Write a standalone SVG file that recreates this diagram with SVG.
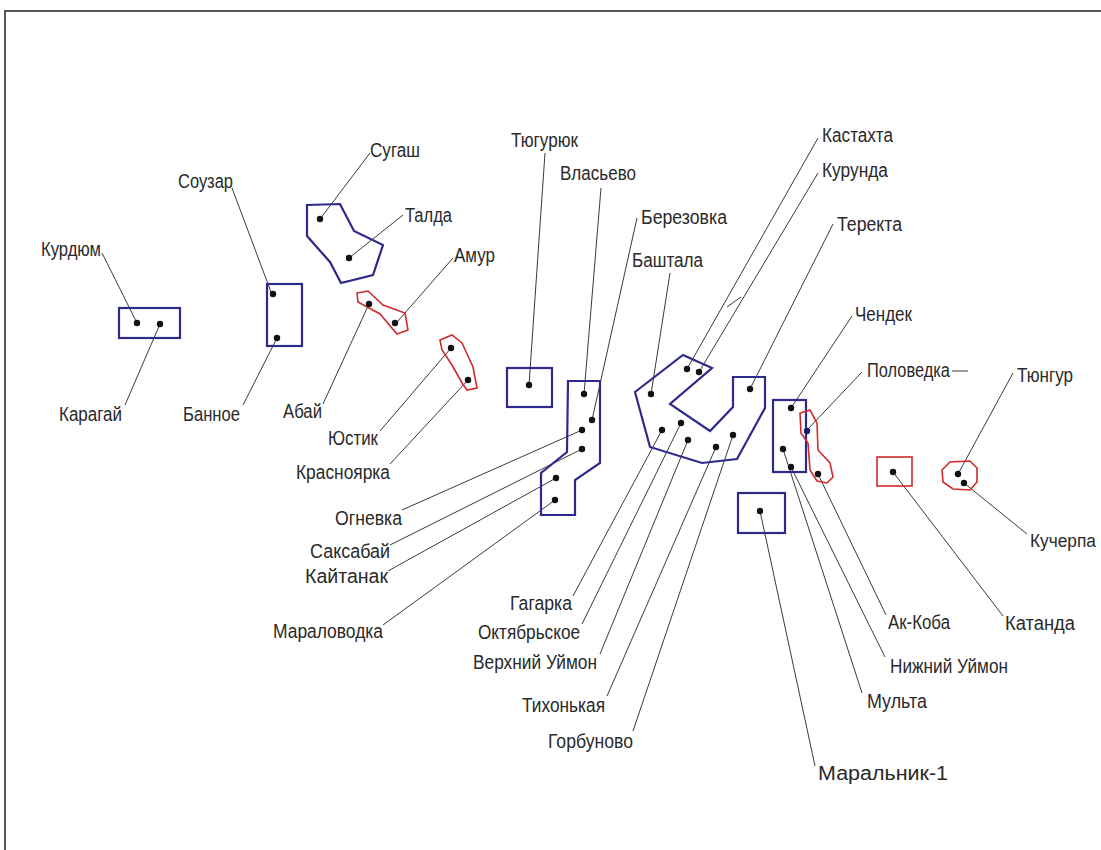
<svg xmlns="http://www.w3.org/2000/svg" width="1101" height="850" viewBox="0 0 1101 850">
<style>
.lbl{font-family:"Liberation Sans",Arial,sans-serif;font-size:20px;fill:#2a2a2a}
.b{fill:none;stroke:#2e2a8c;stroke-width:2.2;stroke-linejoin:miter}
.r{fill:none;stroke:#d02a2a;stroke-width:1.6}
.d{fill:#111}
.c line{stroke:#3a3a3a;stroke-width:1}
</style>
<rect width="1101" height="850" fill="#fff"/>
<path d="M5,860 V11 H1110" fill="none" stroke="#555" stroke-width="2"/>
<g class="c" id="connectors">
<line x1="102" y1="253" x2="137" y2="323"/>
<line x1="125" y1="405" x2="160" y2="324"/>
<line x1="232" y1="188" x2="271" y2="292"/>
<line x1="243" y1="405" x2="277" y2="338"/>
<line x1="370" y1="153" x2="320" y2="219"/>
<line x1="403" y1="215" x2="349" y2="258"/>
<line x1="453" y1="258" x2="397" y2="322"/>
<line x1="323" y1="404" x2="369" y2="304"/>
<line x1="380" y1="431" x2="451" y2="348"/>
<line x1="390" y1="464" x2="468" y2="380"/>
<line x1="545" y1="153" x2="529" y2="385"/>
<line x1="601" y1="188" x2="584" y2="394"/>
<line x1="637" y1="218" x2="592" y2="420"/>
<line x1="670" y1="273" x2="651" y2="394"/>
<line x1="402" y1="510" x2="582" y2="430"/>
<line x1="390" y1="545" x2="582" y2="449"/>
<line x1="388" y1="571" x2="556" y2="478"/>
<line x1="383" y1="625" x2="555" y2="500"/>
<line x1="573" y1="596" x2="662" y2="430"/>
<line x1="582" y1="624" x2="681" y2="423"/>
<line x1="600" y1="654" x2="688" y2="440"/>
<line x1="607" y1="696" x2="716" y2="447"/>
<line x1="633" y1="731" x2="733" y2="435"/>
<line x1="818" y1="138" x2="687" y2="369"/>
<line x1="818" y1="173" x2="699" y2="372"/>
<line x1="833" y1="224" x2="750" y2="389"/>
<line x1="727" y1="307" x2="741" y2="297"/>
<line x1="852" y1="316" x2="791" y2="408"/>
<line x1="862" y1="372" x2="807" y2="430"/>
<line x1="952" y1="371" x2="968" y2="371"/>
<line x1="1013" y1="373" x2="958" y2="474"/>
<line x1="1027" y1="534" x2="964" y2="483"/>
<line x1="1003" y1="616" x2="893" y2="472"/>
<line x1="886" y1="615" x2="818" y2="474"/>
<line x1="885" y1="657" x2="791" y2="467"/>
<line x1="862" y1="693" x2="783" y2="449"/>
<line x1="815" y1="766" x2="760" y2="511"/>
</g>
<g id="kurdyum-karagai"><rect class="b" x="119" y="308" width="61" height="30"/><circle class="d" cx="137" cy="323" r="3.2"/><circle class="d" cx="160" cy="324" r="3.2"/></g>
<g id="souzar-bannoe"><rect class="b" x="267" y="284" width="35" height="62"/><circle class="d" cx="273" cy="294" r="3.2"/><circle class="d" cx="277" cy="338" r="3.2"/></g>
<g id="sugash-talda"><polygon class="b" points="307,205 340,204 354,231 383,245 373,275 341,283 330,262 307,236"/><circle class="d" cx="320" cy="219" r="3.2"/><circle class="d" cx="349" cy="258" r="3.2"/></g>
<g id="abai-amur"><polygon class="r" points="357,293 368,291 383,305 405,313 408,330 397,334 380,314 358,302"/><circle class="d" cx="369" cy="304" r="3.2"/><circle class="d" cx="395" cy="323" r="3.2"/></g>
<g id="yustik-krasnoyarka"><polygon class="r" points="440,340 452,335 462,343 473,367 477,388 467,390 462,383 452,365 442,350"/><circle class="d" cx="451" cy="348" r="3.2"/><circle class="d" cx="468" cy="380" r="3.2"/></g>
<g id="tyuguryuk"><rect class="b" x="507" y="368" width="45" height="39"/><circle class="d" cx="529" cy="385" r="3.2"/></g>
<g id="vlasyevo-group"><polygon class="b" points="568,381 600,381 600,463 575,480 575,515 541,515 541,473 567,452"/><circle class="d" cx="584" cy="394" r="3.2"/><circle class="d" cx="592" cy="420" r="3.2"/><circle class="d" cx="582" cy="430" r="3.2"/><circle class="d" cx="582" cy="449" r="3.2"/><circle class="d" cx="556" cy="478" r="3.2"/><circle class="d" cx="555" cy="500" r="3.2"/></g>
<g id="uimon-group"><polygon class="b" points="635,392 683,355 712,368 670,404 710,431 733,407 733,377 765,377 765,408 737,459 702,463 650,447"/><circle class="d" cx="687" cy="369" r="3.2"/><circle class="d" cx="699" cy="372" r="3.2"/><circle class="d" cx="651" cy="394" r="3.2"/><circle class="d" cx="750" cy="389" r="3.2"/><circle class="d" cx="662" cy="430" r="3.2"/><circle class="d" cx="681" cy="423" r="3.2"/><circle class="d" cx="688" cy="440" r="3.2"/><circle class="d" cx="716" cy="447" r="3.2"/><circle class="d" cx="733" cy="435" r="3.2"/></g>
<g id="chendek-group"><rect class="b" x="773" y="400" width="33" height="72"/><circle class="d" cx="791" cy="408" r="3.2"/><circle class="d" cx="783" cy="449" r="3.2"/><circle class="d" cx="791" cy="467" r="3.2"/></g>
<g id="polovedka-akkoba"><polygon class="r" points="800,413 810,410 817,423 818,450 830,463 833,477 827,483 817,481 810,470 808,443 801,433"/><circle cx="807" cy="431" r="3.2" fill="#1a1a6a"/><circle class="d" cx="818" cy="474" r="3.2"/></g>
<g id="maralnik"><rect class="b" x="738" y="493" width="47" height="40"/><circle class="d" cx="760" cy="511" r="3.2"/></g>
<g id="katanda"><rect class="r" x="877" y="457" width="35" height="29"/><circle class="d" cx="893" cy="472" r="3.2"/></g>
<g id="tyungur-kucherpa"><polygon class="r" points="942,470 950,462 970,461 977,468 977,482 970,490 953,489 943,482"/><circle class="d" cx="958" cy="474" r="3.2"/><circle class="d" cx="964" cy="483" r="3.2"/></g>
<g id="labels">
<text class="lbl" x="41" y="256" textLength="60" lengthAdjust="spacingAndGlyphs">Курдюм</text>
<text class="lbl" x="59" y="421" textLength="63" lengthAdjust="spacingAndGlyphs">Карагай</text>
<text class="lbl" x="178" y="188" textLength="55" lengthAdjust="spacingAndGlyphs">Соузар</text>
<text class="lbl" x="183" y="421" textLength="57" lengthAdjust="spacingAndGlyphs">Банное</text>
<text class="lbl" x="370" y="157" textLength="50" lengthAdjust="spacingAndGlyphs">Сугаш</text>
<text class="lbl" x="405" y="222" textLength="47" lengthAdjust="spacingAndGlyphs">Талда</text>
<text class="lbl" x="454" y="262" textLength="41" lengthAdjust="spacingAndGlyphs">Амур</text>
<text class="lbl" x="283" y="418" textLength="39" lengthAdjust="spacingAndGlyphs">Абай</text>
<text class="lbl" x="328" y="445" textLength="50" lengthAdjust="spacingAndGlyphs">Юстик</text>
<text class="lbl" x="296" y="479" textLength="94" lengthAdjust="spacingAndGlyphs">Красноярка</text>
<text class="lbl" x="511" y="147" textLength="67" lengthAdjust="spacingAndGlyphs">Тюгурюк</text>
<text class="lbl" x="560" y="180" textLength="76" lengthAdjust="spacingAndGlyphs">Власьево</text>
<text class="lbl" x="641" y="224" textLength="86" lengthAdjust="spacingAndGlyphs">Березовка</text>
<text class="lbl" x="632" y="267" textLength="71" lengthAdjust="spacingAndGlyphs">Баштала</text>
<text class="lbl" x="335" y="525" textLength="67" lengthAdjust="spacingAndGlyphs">Огневка</text>
<text class="lbl" x="310" y="558" textLength="80" lengthAdjust="spacingAndGlyphs">Саксабай</text>
<text class="lbl" x="305" y="583" textLength="83" lengthAdjust="spacingAndGlyphs">Кайтанак</text>
<text class="lbl" x="273" y="638" textLength="110" lengthAdjust="spacingAndGlyphs">Мараловодка</text>
<text class="lbl" x="510" y="610" textLength="62" lengthAdjust="spacingAndGlyphs">Гагарка</text>
<text class="lbl" x="478" y="639" textLength="102" lengthAdjust="spacingAndGlyphs">Октябрьское</text>
<text class="lbl" x="473" y="669" textLength="124" lengthAdjust="spacingAndGlyphs">Верхний Уймон</text>
<text class="lbl" x="522" y="712" textLength="83" lengthAdjust="spacingAndGlyphs">Тихонькая</text>
<text class="lbl" x="548" y="748" textLength="85" lengthAdjust="spacingAndGlyphs">Горбуново</text>
<text class="lbl" x="822" y="142" textLength="71" lengthAdjust="spacingAndGlyphs">Кастахта</text>
<text class="lbl" x="822" y="177" textLength="66" lengthAdjust="spacingAndGlyphs">Курунда</text>
<text class="lbl" x="837" y="231" textLength="65" lengthAdjust="spacingAndGlyphs">Теректа</text>
<text class="lbl" x="855" y="321" textLength="57" lengthAdjust="spacingAndGlyphs">Чендек</text>
<text class="lbl" x="867" y="377" textLength="83" lengthAdjust="spacingAndGlyphs">Половедка</text>
<text class="lbl" x="1017" y="382" textLength="56" lengthAdjust="spacingAndGlyphs">Тюнгур</text>
<text class="lbl" x="1030" y="547" style="font-size:18px" textLength="66" lengthAdjust="spacingAndGlyphs">Кучерпа</text>
<text class="lbl" x="1005" y="630" textLength="70" lengthAdjust="spacingAndGlyphs">Катанда</text>
<text class="lbl" x="888" y="629" textLength="62" lengthAdjust="spacingAndGlyphs">Ак-Коба</text>
<text class="lbl" x="890" y="673" textLength="118" lengthAdjust="spacingAndGlyphs">Нижний Уймон</text>
<text class="lbl" x="867" y="708" textLength="60" lengthAdjust="spacingAndGlyphs">Мульта</text>
<text class="lbl" x="818" y="780" textLength="130" lengthAdjust="spacingAndGlyphs">Маральник-1</text>
</g>
</svg>
